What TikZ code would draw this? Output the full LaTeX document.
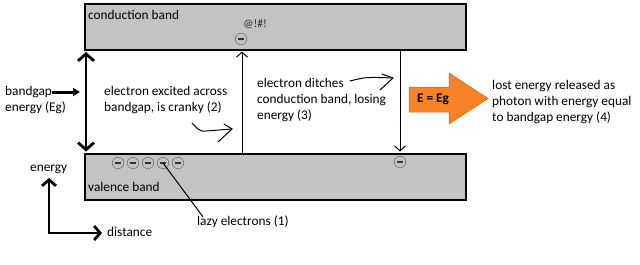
\documentclass[tikz,border=0pt]{standalone}
\usepackage{fontspec}
\setmainfont{Carlito}
\usetikzlibrary{arrows.meta}
\definecolor{bandgray}{RGB}{195,195,195}
\definecolor{photon}{RGB}{247,130,40}
\definecolor{photonedge}{RGB}{200,95,20}
\begin{document}
\begin{tikzpicture}[x=1pt,y=-1pt,
  font=\fontsize{13.3}{16.3}\selectfont,
  band/.style={draw=black, line width=1.5pt, fill=bandgray, minimum width=381pt,
    minimum height=46pt, inner sep=0pt, anchor=north west},
  electron/.style={circle, draw=gray!90!black, line width=0.6pt, minimum size=11.5pt,
    inner sep=0pt, fill=bandgray,
    path picture={\draw[line width=1.3pt, black!80]
      ([xshift=-3.2pt]path picture bounding box.center) --
      ([xshift=3.2pt]path picture bounding box.center);}},
  lbl/.style={inner sep=0pt, align=left, anchor=west},
  thinarrow/.style={line width=1pt, -{Straight Barb[length=5pt,width=11pt,line width=1pt]}},
  gaparrow/.style={line width=2.8pt,
    {Straight Barb[length=7pt,width=16pt,line width=2.8pt]}-{Straight Barb[length=7pt,width=16pt,line width=2.8pt]}},
  axisarrow/.style={line width=2.8pt, -{Straight Barb[length=6pt,width=14pt,line width=2.8pt]}},
  fatarrow/.style={line width=3pt, -{Triangle[length=7pt,width=8pt]}},
  squiggle/.style={line width=1pt, line cap=round, line join=round}
]
\useasboundingbox[fill=white] (0,0) rectangle (640,265);

% bands
\node[band] (cb) at (84,3) {};
\node[band] (vb) at (84,153) {};
\node[lbl] (cbl) at (88,15) {conduction band};
\node[lbl] (vbl) at (88,187) {valence band};

% electrons
\node[electron] (e1) at (118,163) {};
\node[electron] (e2) at (133,163) {};
\node[electron] (e3) at (148,163) {};
\node[electron] (e4) at (163,163) {};
\node[electron] (e5) at (178,163) {};
\node[electron] (ec) at (241,39) {};
\node[electron] (ev) at (400,162) {};
\node[inner sep=0pt, font=\fontsize{11.5}{13}\selectfont, text=black!85] (grr) at (255,24) {@!\#!};

% bandgap arrow
\coordinate (gx) at (86,0);
\draw[gaparrow] ([yshift=-1.5pt]cb.south -| gx) -- ([yshift=1.5pt]vb.north -| gx);
\node[lbl] (bg1) at (5,92) {bandgap};
\node[lbl] (bg2) at (5,108) {energy (Eg)};
\draw[fatarrow] (bg1.east) -- ([xshift=-6pt]bg1.east -| gx);

% excitation
\coordinate (ux) at (242,0);
\draw[thinarrow] (vb.north -| ux) -- ([yshift=-1pt]cb.south -| ux);
\node[lbl] (exc) at (104,100) {electron excited across\\bandgap, is cranky (2)};
\coordinate (s1a) at (192,123);
\coordinate (s1b) at (232,129);
\draw[squiggle] (s1a) .. controls (197,128) and (199,132) .. (206,131) -- (s1b);
\draw[squiggle] (224,124) -- (s1b) -- (218,142);

% relaxation
\coordinate (dx) at (400,0);
\draw[thinarrow] (cb.south -| dx) -- ([yshift=1.5pt]vb.north -| dx);
\node[lbl] (dit) at (257,100) {electron ditches\\conduction band, losing\\energy (3)};
\coordinate (s2a) at (350,81);
\coordinate (s2b) at (393,78);
\draw[squiggle] (s2a) .. controls (366,77) .. (s2b);
\draw[squiggle] (382,74) -- (s2b) -- (380,90);

% photon
\draw[fill=photon, draw=photonedge, line width=0.5pt]
  (409,87) -- (449,87) -- (449,73) -- (488,98.5) -- (449,124) -- (449,112) -- (409,112) -- cycle;
\node[inner sep=0pt, font=\fontsize{13.3}{16}\selectfont\bfseries] (eeg) at (433,99) {E = Eg};
\node[lbl] (lost) at (492,102) {lost energy released as\\photon with energy equal\\to bandgap energy (4)};

% lazy electrons
\node[lbl] (lazy) at (197,222) {lazy electrons (1)};
\draw[line width=1pt] (e4.center) -- ([xshift=6pt,yshift=-1pt]lazy.north west);

% axes
\coordinate (o) at (49,233);
\coordinate (ytip) at (49,178);
\coordinate (xtip) at (102,233);
\draw[axisarrow] ([yshift=-1.4pt]o) -- (ytip);
\draw[axisarrow] ([xshift=-1.4pt]o) -- (xtip);
\node[lbl] (en) at (30,169) {energy};
\node[lbl] (dist) at (107,232) {distance};
\end{tikzpicture}
\end{document}
